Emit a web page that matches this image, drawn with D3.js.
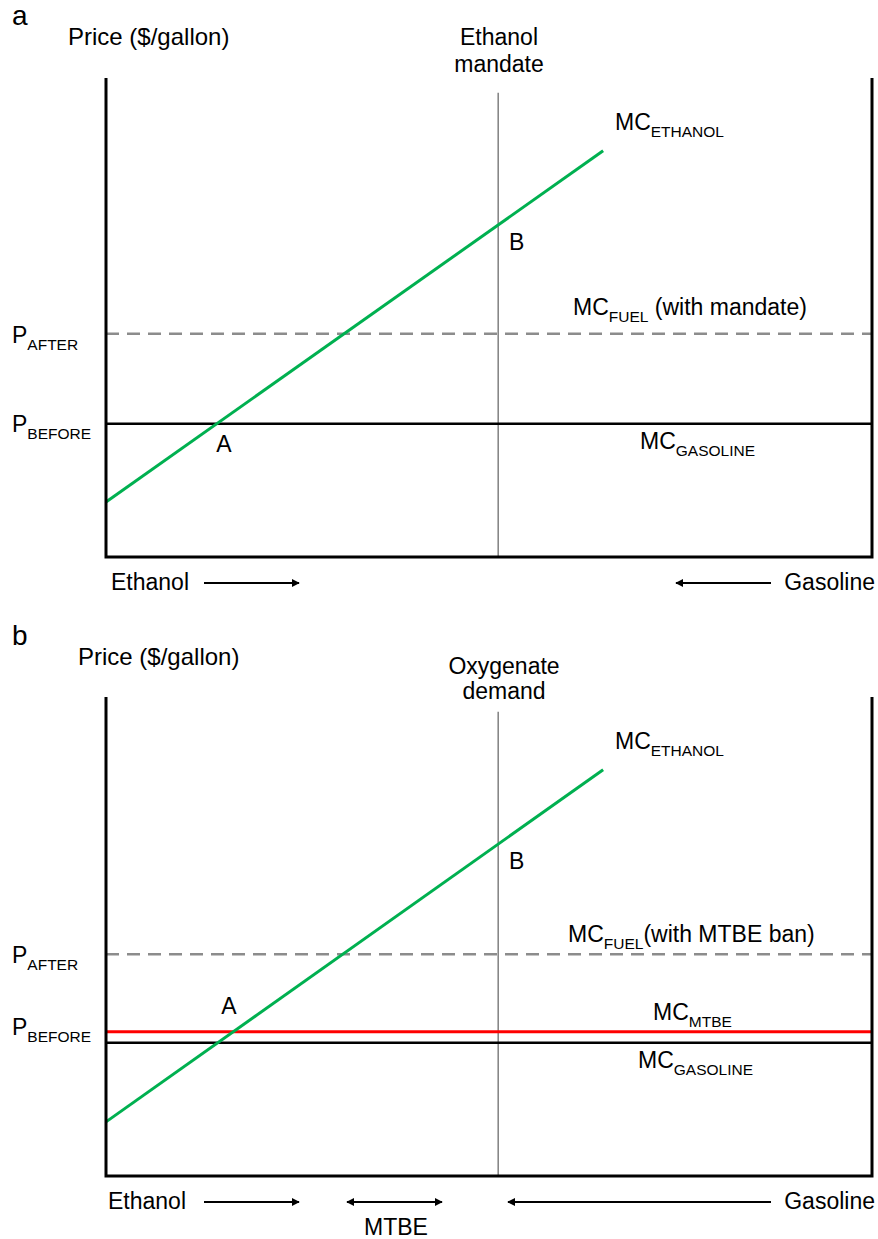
<!DOCTYPE html>
<html>
<head>
<meta charset="utf-8">
<script src="https://cdn.jsdelivr.net/npm/d3@7/dist/d3.min.js"></script>
<style>
  body { margin: 0; background: #fff; }
  text { font-family: "Liberation Sans", Arial, sans-serif; fill: #000; }
</style>
</head>
<body>
<svg width="878" height="1239"></svg>
<script>
// quantity runs 0..100 left to right (ethanol share), price 0..100 bottom to top
const panelNames = ['a', 'b'];
const demandLabels = [['Ethanol', 'mandate'], ['Oxygenate', 'demand']];
const fuelLabels = [' (with mandate)', '(with MTBE ban)'];
const mandateQty = [51.2, 51.2];
const mandateTop = [96.9, 96.9];
const ethanolMC = [
  [[0, 11.5], [64.9, 84.8]],
  [[0, 11.3], [64.9, 84.8]]
];
const pBefore = [27.8, 27.8];   // MC gasoline
const pAfter = [46.6, 46.3];    // MC fuel
const mcMtbe = [null, 30.1];

const svg = d3.select('svg');
const width = +svg.attr('width');
const margin = {left: 106, right: 6};
const plotH = 479;
const tops = [78, 697];

const x = d3.scaleLinear().domain([0, 100]).range([margin.left, width - margin.right]);

svg.append('defs').append('marker')
  .attr('id', 'head')
  .attr('viewBox', '0 0 10 10')
  .attr('refX', 9).attr('refY', 5)
  .attr('markerWidth', 4.8).attr('markerHeight', 4.4)
  .attr('markerUnits', 'strokeWidth')
  .attr('orient', 'auto-start-reverse')
  .append('path').attr('d', 'M0,0L10,5L0,10z').attr('fill', '#000');

const sub = (sel, main, s, rest) => {
  sel.text(main);
  sel.append('tspan').attr('dy', 7).attr('font-size', 15.5).text(s);
  if (rest) sel.append('tspan').attr('dy', -7).text(rest);
};

const arrow = (g, x1, x2, yy, both) => {
  g.append('line')
    .attr('x1', x1).attr('x2', x2).attr('y1', yy).attr('y2', yy)
    .attr('stroke', '#000').attr('stroke-width', 1.8)
    .attr('marker-end', 'url(#head)')
    .attr('marker-start', both ? 'url(#head)' : null);
};

panelNames.forEach((name, i) => {
  const top = tops[i];
  const y = d3.scaleLinear().domain([0, 100]).range([top + plotH, top]);
  const g = svg.append('g');
  const off = top - 78;

  // labels above
  g.append('text').attr('x', 12).attr('y', 25 + off + (i ? 1 : 0)).attr('font-size', 28).text(name);
  g.append('text').attr('x', i ? 78 : 68).attr('y', 45 + off + (i ? 1 : 0)).attr('font-size', 24).text('Price ($/gallon)');
  const cx = i ? 504 : 499;
  demandLabels[i].forEach((t, k) => {
    g.append('text').attr('x', cx).attr('y', (i ? 674 : 45) + k * 25 + (i ? 0 : k * 2))
      .attr('text-anchor', 'middle').attr('font-size', 23).text(t);
  });

  // demand / mandate vertical line
  g.append('line')
    .attr('x1', x(mandateQty[i])).attr('x2', x(mandateQty[i]))
    .attr('y1', y(mandateTop[i])).attr('y2', y(0))
    .attr('stroke', '#808080').attr('stroke-width', 1.5);

  // MC fuel dashed
  g.append('line')
    .attr('x1', x(0)).attr('x2', x(100))
    .attr('y1', y(pAfter[i])).attr('y2', y(pAfter[i]))
    .attr('stroke', '#8c8c8c').attr('stroke-width', 2.5)
    .attr('stroke-dasharray', '13,8');

  // MC gasoline
  g.append('line')
    .attr('x1', x(0)).attr('x2', x(100))
    .attr('y1', y(pBefore[i])).attr('y2', y(pBefore[i]))
    .attr('stroke', '#000').attr('stroke-width', 2.5);

  // MC MTBE
  if (mcMtbe[i] != null) {
    g.append('line')
      .attr('x1', x(0)).attr('x2', x(100))
      .attr('y1', y(mcMtbe[i])).attr('y2', y(mcMtbe[i]))
      .attr('stroke', '#ff0000').attr('stroke-width', 3);
  }

  // MC ethanol
  g.append('path')
    .datum(ethanolMC[i])
    .attr('d', d3.line().x(d => x(d[0])).y(d => y(d[1])))
    .attr('fill', 'none').attr('stroke', '#00b050').attr('stroke-width', 3);

  // frame: left axis, bottom axis, right edge
  g.append('path')
    .attr('d', `M${x(0)},${y(100)}V${y(0)}H${x(100)}V${y(100)}`)
    .attr('fill', 'none').attr('stroke', '#000').attr('stroke-width', 3);

  // curve labels
  sub(g.append('text').attr('x', 615).attr('y', y(100) + 52).attr('font-size', 23), 'MC', 'ETHANOL');
  g.append('text').attr('x', 509).attr('y', y(100) + 172).attr('font-size', 23).text('B');
  sub(g.append('text').attr('x', i ? 568 : 573).attr('y', y(pAfter[i]) - (i ? 12 : 19)).attr('font-size', 23),
    'MC', 'FUEL', fuelLabels[i]);
  sub(g.append('text').attr('x', 12).attr('y', y(pAfter[i]) + 9).attr('font-size', 23), 'P', 'AFTER');
  sub(g.append('text').attr('x', 12).attr('y', (i ? 1035 : 432)).attr('font-size', 23), 'P', 'BEFORE');
  g.append('text').attr('x', i ? 229 : 224).attr('y', i ? 1014 : 452)
    .attr('text-anchor', 'middle').attr('font-size', 23).text('A');
  sub(g.append('text').attr('x', i ? 638 : 640).attr('y', y(pBefore[i]) + 25).attr('font-size', 23), 'MC', 'GASOLINE');
  if (mcMtbe[i] != null) {
    sub(g.append('text').attr('x', 653).attr('y', y(mcMtbe[i]) - 12).attr('font-size', 23), 'MC', 'MTBE');
  }

  // quantity direction labels below
  const by = y(0) + 26;
  g.append('text').attr('x', i ? 108 : 111).attr('y', by + 7).attr('font-size', 23).text('Ethanol');
  arrow(g, 204, 299, by, false);
  g.append('text').attr('x', 875).attr('y', by + 7).attr('text-anchor', 'end').attr('font-size', 23).text('Gasoline');
  if (i === 0) {
    arrow(g, 771, 676, by, false);
  } else {
    arrow(g, 771, 508, by, false);
    arrow(g, 347, 442, by, true);
    g.append('text').attr('x', 396).attr('y', by + 33).attr('text-anchor', 'middle').attr('font-size', 23).text('MTBE');
  }
});
</script>
</body>
</html>
